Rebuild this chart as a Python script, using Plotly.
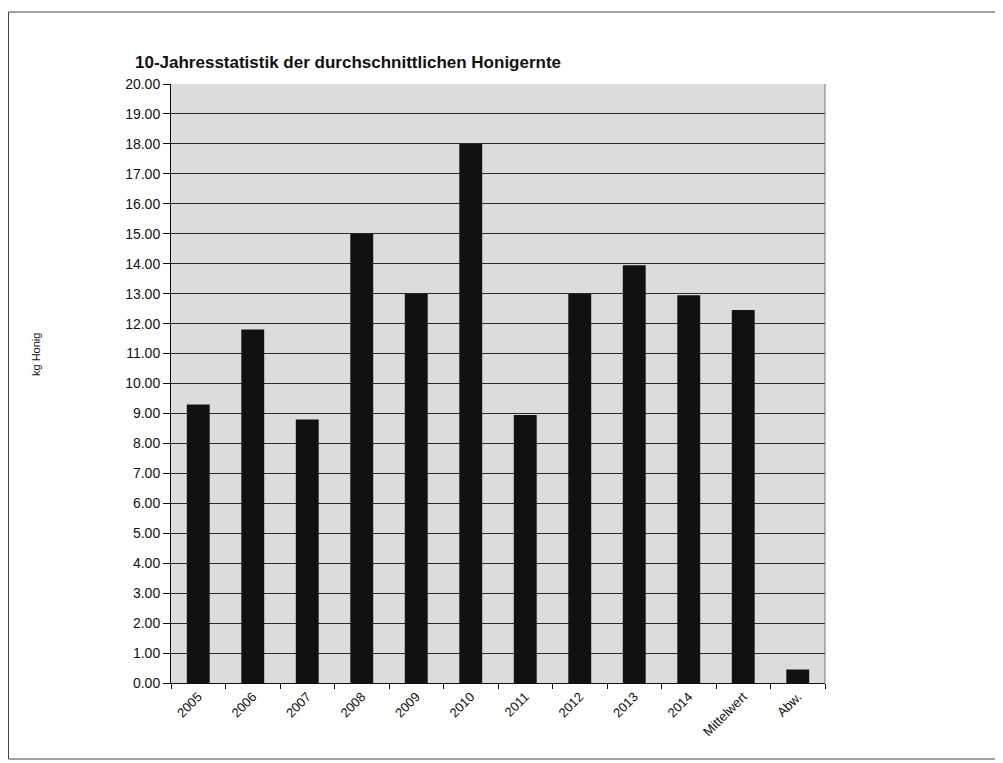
import plotly.graph_objects as go

categories = ["2005", "2006", "2007", "2008", "2009", "2010", "2011", "2012", "2013", "2014", "Mittelwert", "Abw."]
values = [9.3, 11.8, 8.8, 15.0, 13.0, 18.0, 8.95, 13.0, 13.95, 12.95, 12.45, 0.45]
y_ticks = list(range(0, 21))
title_text = "10-Jahresstatistik der durchschnittlichen Honigernte"
y_title = "kg Honig"

# page is offset by the 8px body margin
OFF = 8
W, H = 1003 - OFF, 763 - OFF
L, R, T, B = 171 - OFF, 825 - OFF, 84 - OFF, 683 - OFF
pw, ph = R - L, B - T

def px(x):
    return (x - OFF - L) / pw

def py(y):
    return (B - (y - OFF)) / ph

fig = go.Figure()
fig.add_trace(go.Bar(
    x=categories, y=values,
    marker=dict(color="#111111", line=dict(width=0)),
    hoverinfo="x+y",
))

fig.update_layout(
    width=W, height=H,
    margin=dict(l=L, r=W - R, t=T, b=H - B),
    paper_bgcolor="white",
    plot_bgcolor="#dcdcdc",
    bargap=0.58,
    showlegend=False,
    font=dict(family="Liberation Sans, Arial, sans-serif", color="#111111"),
    xaxis=dict(
        type="category",
        tickangle=-45,
        tickfont=dict(size=13),
        showgrid=False,
        showline=True, linecolor="#111111", linewidth=1,
        ticks="outside", ticklen=5, tickcolor="#111111",
        tickson="boundaries",
        mirror=False,
    ),
    yaxis=dict(
        range=[0, 20],
        tickvals=y_ticks,
        tickformat=".2f",
        tickfont=dict(size=14),
        showgrid=True, gridcolor="#2a2a2a", gridwidth=1,
        showline=True, linecolor="#111111", linewidth=1,
        ticks="outside", ticklen=7, tickcolor="#111111",
        zeroline=False,
    ),
    annotations=[
        dict(text="<b>" + title_text + "</b>", xref="paper", yref="paper",
             x=px(133), y=py(63), xanchor="left", yanchor="middle",
             showarrow=False, font=dict(size=17, color="#111111")),
        dict(text=y_title, xref="paper", yref="paper",
             x=px(36), y=py(355), xanchor="center", yanchor="middle",
             textangle=-90, showarrow=False, font=dict(size=11, color="#111111")),
    ],
    shapes=[
        dict(type="rect", xref="paper", yref="paper",
             x0=px(8.5), x1=px(999), y0=py(759), y1=py(12),
             line=dict(color="#444444", width=1), fillcolor="rgba(0,0,0,0)", layer="below"),
        dict(type="line", xref="paper", yref="paper",
             x0=1, x1=1, y0=0, y1=1,
             line=dict(color="#777777", width=1)),
    ],
)

fig.write_html("out.html")
